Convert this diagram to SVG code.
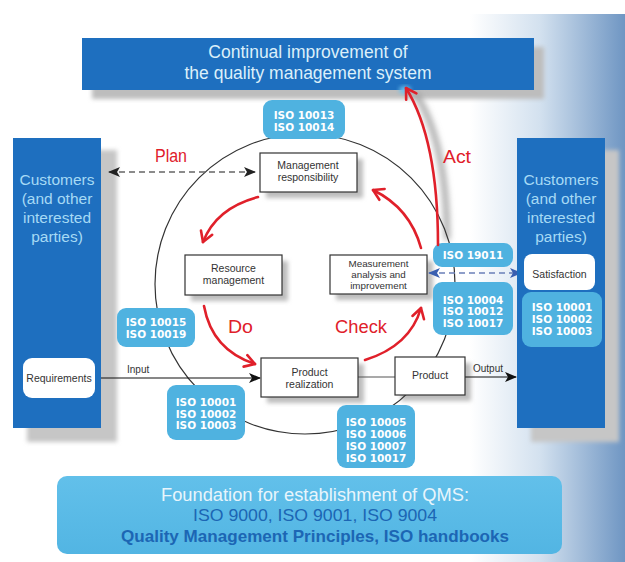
<svg xmlns="http://www.w3.org/2000/svg" width="625" height="562" viewBox="0 0 625 562">
  <defs>
    <linearGradient id="bgGrad" x1="0" y1="0" x2="1" y2="0">
      <stop offset="0" stop-color="#ffffff"/>
      <stop offset="0.45" stop-color="#d3e1ef"/>
      <stop offset="1" stop-color="#6f96c3"/>
    </linearGradient>
    <linearGradient id="baseGrad" x1="0" y1="0" x2="0" y2="1">
      <stop offset="0" stop-color="#62c0ea"/>
      <stop offset="1" stop-color="#52b5e3"/>
    </linearGradient>
    <filter id="soft" x="-20%" y="-20%" width="140%" height="140%">
      <feGaussianBlur stdDeviation="2"/>
    </filter>
    <filter id="softer" x="-50%" y="-20%" width="200%" height="140%">
      <feGaussianBlur stdDeviation="3"/>
    </filter>
    <marker id="redHead" markerUnits="userSpaceOnUse" markerWidth="16" markerHeight="16" viewBox="0 0 16 16" refX="13" refY="8" orient="auto">
      <path d="M3,2 L13,8 L3,14" fill="none" stroke="#e0202a" stroke-width="2.6" stroke-linecap="round" stroke-linejoin="round"/>
    </marker>
    <marker id="blackHead" markerUnits="userSpaceOnUse" markerWidth="12" markerHeight="10" viewBox="0 0 12 10" refX="11" refY="5" orient="auto">
      <path d="M0,0 L12,5 L0,10 L3,5 z" fill="#111"/>
    </marker>
    <marker id="grayHead" markerUnits="userSpaceOnUse" markerWidth="12" markerHeight="10" viewBox="0 0 12 10" refX="11" refY="5" orient="auto-start-reverse">
      <path d="M0,0 L12,5 L0,10 L3,5 z" fill="#222"/>
    </marker>
    <marker id="blueHead" markerUnits="userSpaceOnUse" markerWidth="12" markerHeight="10" viewBox="0 0 12 10" refX="11" refY="5" orient="auto-start-reverse">
      <path d="M0,0 L12,5 L0,10 L3,5 z" fill="#3a5fb0"/>
    </marker>
  </defs>
  <style>
    .blue { fill: #1e6fbf; }
    .shadow { fill: #bdbdbd; filter: url(#soft); }
    .bigshadow { fill: #c6c6c6; filter: url(#soft); }
    .step { fill: #ffffff; stroke: #333333; stroke-width: 1.2; }
    .steptxt { font-family: "Liberation Sans", Arial, sans-serif; font-size: 10.5px; fill: #333333; text-anchor: middle; }
    .small { font-size: 9.8px; }
    .iso { fill: #4fb2e0; }
    .isotxt { font-family: "DejaVu Sans", "Liberation Sans", sans-serif; font-weight: bold; font-size: 10.5px; fill: #ffffff; text-anchor: middle; }
    .cust { font-family: "Liberation Sans", Arial, sans-serif; font-size: 15.5px; fill: #a6daf5; text-anchor: middle; }
    .title { font-family: "Liberation Sans", Arial, sans-serif; font-size: 17.5px; fill: #dcefFA; text-anchor: middle; }
    .pill { fill: #ffffff; }
    .pilltxt { font-family: "Liberation Sans", Arial, sans-serif; font-size: 10.5px; fill: #333333; text-anchor: middle; }
    .phase { font-family: "Liberation Sans", Arial, sans-serif; font-size: 17.5px; fill: #e0202a; }
    .red { fill: none; stroke: #e0202a; stroke-width: 2.6; stroke-linecap: round; marker-end: url(#redHead); }
    .flow { fill: none; stroke: #111111; stroke-width: 1.2; }
    .lbl { font-family: "Liberation Sans", Arial, sans-serif; font-size: 10px; fill: #333333; }
  </style>

  <!-- background -->
  <rect width="625" height="562" fill="#ffffff"/>
  <rect x="470" y="14" width="155" height="548" fill="url(#bgGrad)"/>

  <!-- shadows -->
  <g id="shadows">
    <rect class="shadow" x="92" y="47" width="452" height="52"/>
    <rect class="bigshadow" x="27" y="150" width="90" height="292"/>
    <rect class="bigshadow" x="531" y="150" width="88" height="292"/>
    <rect class="shadow" x="266" y="159" width="97" height="39"/>
    <rect class="shadow" x="191" y="261" width="97" height="40"/>
    <rect class="shadow" x="336" y="261" width="97" height="39"/>
    <rect class="shadow" x="267" y="364" width="97" height="39"/>
    <rect class="shadow" x="401" y="363" width="70" height="38"/>
    <path d="M447,240 C447,190 441,132 415,93" fill="none" stroke="#9a9a9a" stroke-width="5" filter="url(#softer)"/>
  </g>

  <!-- improvement cycle -->
  <g id="connectors">
    <circle cx="305" cy="284" r="150" fill="none" stroke="#333333" stroke-width="1.2"/>
    <path d="M109,172 L255,172" fill="none" stroke="#666666" stroke-width="1.5" stroke-dasharray="6,4" marker-start="url(#grayHead)" marker-end="url(#grayHead)"/>
    <path d="M429,273 L521,273" fill="none" stroke="#6a7fb8" stroke-width="1.5" stroke-dasharray="6,4" marker-start="url(#blueHead)" marker-end="url(#blueHead)"/>
    <path class="flow" d="M95,378 L260,378" marker-end="url(#blackHead)"/>
    <path d="M358,377 L395,377" stroke="#555555" stroke-width="1.2"/>
    <path class="flow" d="M465,377 L516,377" marker-end="url(#blackHead)"/>
  </g>

  <g id="title">
    <rect class="blue" x="82" y="38" width="452" height="52"/>
    <text class="title" x="308" y="58">Continual improvement of</text>
    <text class="title" x="308" y="79">the quality management system</text>
  </g>

  <g id="customers-left">
    <rect class="blue" x="13" y="138" width="88" height="290"/>
    <text class="cust" x="57" y="185">Customers</text>
    <text class="cust" x="57" y="204">(and other</text>
    <text class="cust" x="57" y="223">interested</text>
    <text class="cust" x="57" y="242">parties)</text>
  </g>
  <g id="requirements">
    <rect class="pill" x="23" y="358" width="72" height="40" rx="9"/>
    <text class="pilltxt" x="59" y="381.5">Requirements</text>
  </g>

  <g id="customers-right">
    <rect class="blue" x="517" y="138" width="88" height="290"/>
    <text class="cust" x="561" y="185">Customers</text>
    <text class="cust" x="561" y="204">(and other</text>
    <text class="cust" x="561" y="223">interested</text>
    <text class="cust" x="561" y="242">parties)</text>
  </g>
  <g id="satisfaction">
    <rect class="pill" x="524" y="254" width="71" height="36" rx="8"/>
    <text class="pilltxt" x="559.5" y="277.5">Satisfaction</text>
  </g>
  <g id="iso-satisfaction">
    <rect class="iso" x="522" y="292" width="80" height="55" rx="9" fill="#55b5e3"/>
    <text class="isotxt" x="562" y="311">ISO 10001</text>
    <text class="isotxt" x="562" y="323">ISO 10002</text>
    <text class="isotxt" x="562" y="335">ISO 10003</text>
  </g>

  <g id="management-responsibility">
    <rect class="step" x="260" y="153" width="97" height="39"/>
    <text class="steptxt" x="308" y="169">Management</text>
    <text class="steptxt" x="308" y="180.5">responsibility</text>
  </g>
  <g id="resource-management">
    <rect class="step" x="185" y="255" width="97" height="40"/>
    <text class="steptxt" x="233.5" y="272">Resource</text>
    <text class="steptxt" x="233.5" y="283.5">management</text>
  </g>
  <g id="measurement">
    <rect class="step" x="330" y="255" width="97" height="39"/>
    <text class="steptxt small" x="378.5" y="266.5">Measurement</text>
    <text class="steptxt small" x="378.5" y="277.5">analysis and</text>
    <text class="steptxt small" x="378.5" y="288.5">improvement</text>
  </g>
  <g id="product-realization">
    <rect class="step" x="261" y="358" width="97" height="39"/>
    <text class="steptxt" x="309.5" y="376">Product</text>
    <text class="steptxt" x="309.5" y="387.5">realization</text>
  </g>
  <g id="product">
    <rect class="step" x="395" y="357" width="70" height="38"/>
    <text class="steptxt" x="430" y="379">Product</text>
  </g>

  <g id="iso-10013">
    <rect class="iso" x="263" y="100" width="82" height="39" rx="9"/>
    <text class="isotxt" x="304" y="119">ISO 10013</text>
    <text class="isotxt" x="304" y="130.5">ISO 10014</text>
  </g>
  <g id="iso-10015">
    <rect class="iso" x="117" y="308" width="78" height="39" rx="9"/>
    <text class="isotxt" x="156" y="326">ISO 10015</text>
    <text class="isotxt" x="156" y="337.5">ISO 10019</text>
  </g>
  <g id="iso-10001">
    <rect class="iso" x="167" y="385" width="78" height="55" rx="9"/>
    <text class="isotxt" x="206" y="406">ISO 10001</text>
    <text class="isotxt" x="206" y="417.5">ISO 10002</text>
    <text class="isotxt" x="206" y="429">ISO 10003</text>
  </g>
  <g id="iso-10005">
    <rect class="iso" x="337" y="405" width="78" height="63" rx="9"/>
    <text class="isotxt" x="376" y="426">ISO 10005</text>
    <text class="isotxt" x="376" y="438">ISO 10006</text>
    <text class="isotxt" x="376" y="450">ISO 10007</text>
    <text class="isotxt" x="376" y="462">ISO 10017</text>
  </g>
  <g id="iso-19011">
    <rect class="iso" x="433" y="243" width="80" height="24" rx="9"/>
    <text class="isotxt" x="473" y="259">ISO 19011</text>
  </g>
  <g id="iso-10004">
    <rect class="iso" x="433" y="282" width="80" height="53" rx="9"/>
    <text class="isotxt" x="473" y="303.5">ISO 10004</text>
    <text class="isotxt" x="473" y="315">ISO 10012</text>
    <text class="isotxt" x="473" y="326.5">ISO 10017</text>
  </g>

  <g id="foundation">
    <rect x="57" y="476" width="505" height="78" rx="10" fill="url(#baseGrad)"/>
    <text x="315" y="501" font-family="Liberation Sans, Arial, sans-serif" font-size="17.5" fill="#e8f5fc" text-anchor="middle" textLength="308" lengthAdjust="spacingAndGlyphs">Foundation for establishment of QMS:</text>
    <text x="315" y="521" font-family="Liberation Sans, Arial, sans-serif" font-size="17" fill="#1c66b4" text-anchor="middle" textLength="244" lengthAdjust="spacingAndGlyphs">ISO 9000, ISO 9001, ISO 9004</text>
    <text x="315" y="542" font-family="Liberation Sans, Arial, sans-serif" font-size="16.5" font-weight="bold" fill="#1c66b4" text-anchor="middle" textLength="388" lengthAdjust="spacingAndGlyphs">Quality Management Principles, ISO handbooks</text>
  </g>

  <!-- PDCA arrows -->
  <g id="pdca">
    <ellipse cx="405" cy="90" rx="6" ry="4" fill="#6cc0ec" filter="url(#soft)"/>
    <path class="red" d="M258,197 Q216,208 203,242"/>
    <path class="red" d="M204,306 Q212,350 255,364"/>
    <path class="red" d="M365,360 Q410,346 421,308"/>
    <path class="red" d="M421,248 Q410,208 373,190"/>
    <path class="red" d="M438,245 C438,190 432,130 406,88"/>
    <text class="phase" x="155" y="162" textLength="32" lengthAdjust="spacingAndGlyphs">Plan</text>
    <text class="phase" x="228" y="333" textLength="25" lengthAdjust="spacingAndGlyphs">Do</text>
    <text class="phase" x="335" y="333" textLength="52" lengthAdjust="spacingAndGlyphs">Check</text>
    <text class="phase" x="443" y="163" textLength="28" lengthAdjust="spacingAndGlyphs">Act</text>
  </g>

  <g id="flow-labels">
    <text class="lbl" x="127" y="373">Input</text>
    <text class="lbl" x="473" y="372">Output</text>
  </g>
</svg>
